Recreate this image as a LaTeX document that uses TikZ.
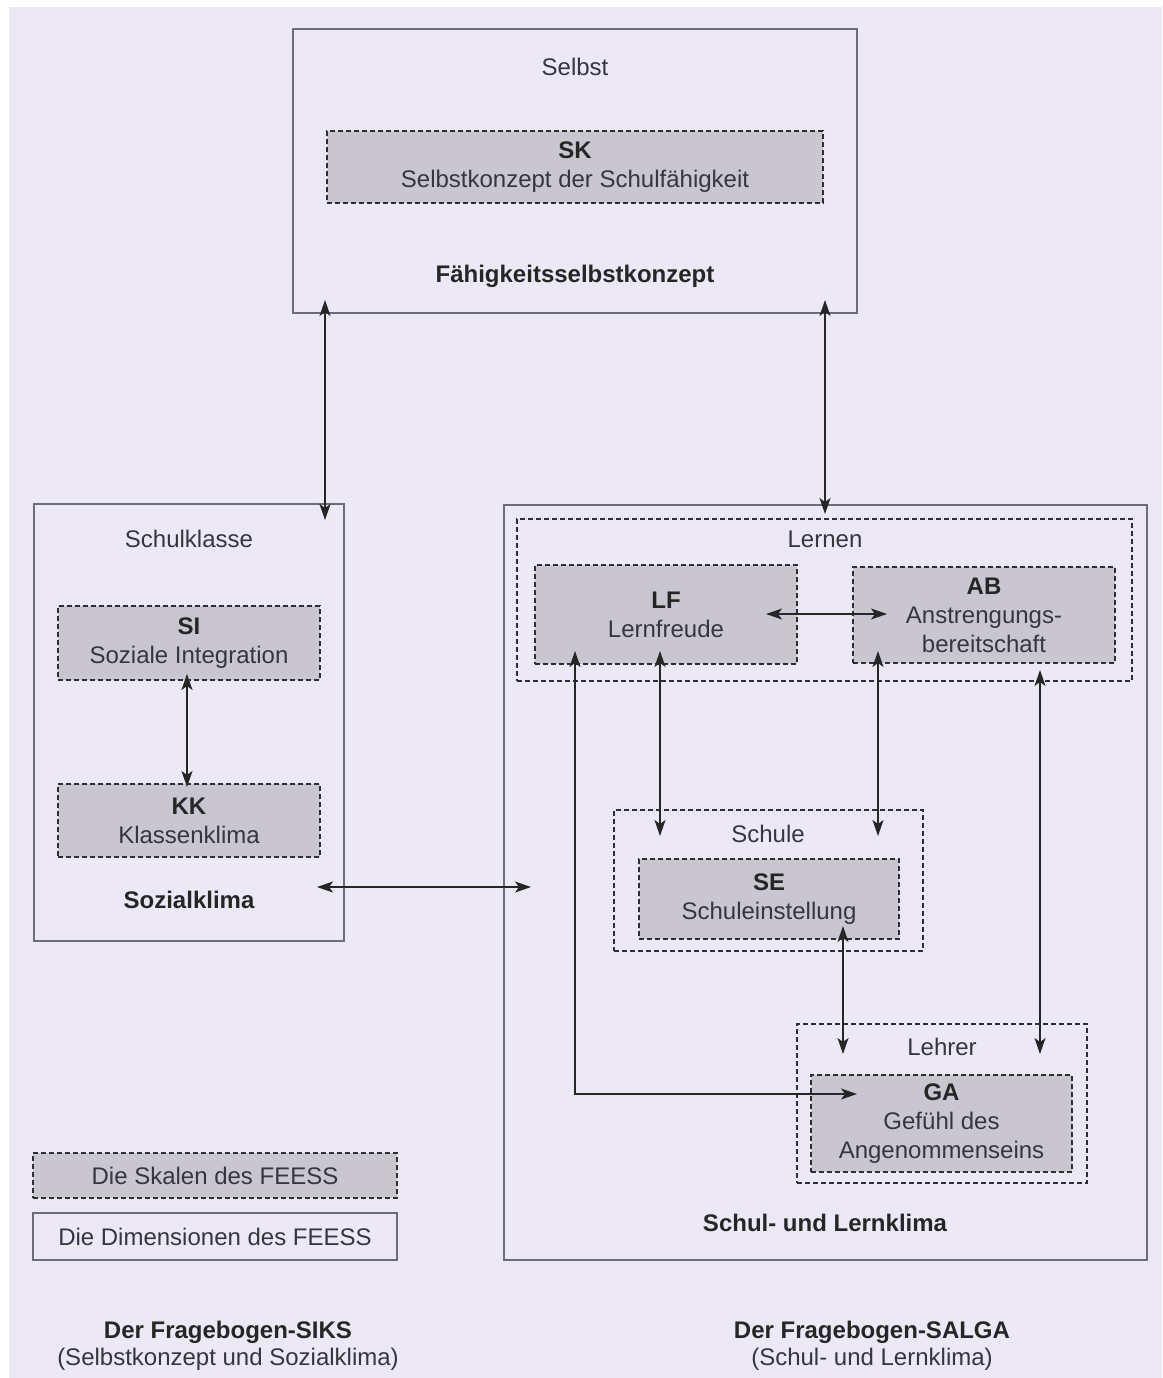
\documentclass[tikz,border=0pt]{standalone}
\usepackage{fontspec}
\setmainfont{Liberation Sans}
\usetikzlibrary{arrows.meta}
\definecolor{bg}{HTML}{ECE8F6}
\definecolor{scalefill}{HTML}{C9C6D0}
\definecolor{dimline}{HTML}{6E6C78}
\definecolor{txt}{HTML}{36363E}
\definecolor{dashc}{HTML}{2E2E36}
\newcommand{\hd}[1]{{\bfseries\color{black!85}#1}}
\begin{document}
\begin{tikzpicture}[x=1pt,y=-1pt,
 dimbox/.style={draw=dimline, line width=1.4pt, rectangle, inner sep=0pt},
 scalebox/.style={draw=dashc, fill=scalefill, line width=2pt, dash pattern=on 5pt off 3pt, rectangle, inner sep=0pt, text=txt, align=center, font=\fontsize{24}{29}\selectfont},
 groupbox/.style={draw=dashc, line width=2pt, dash pattern=on 5pt off 3pt, rectangle, inner sep=0pt},
 lbl/.style={text=txt, font=\fontsize{24}{29}\selectfont, align=center, inner sep=0pt},
 blbl/.style={text=black!85, font=\fontsize{24}{29}\selectfont\bfseries, align=center, inner sep=0pt},
 conn/.style={draw=black!85, line width=1.3pt, {Stealth[length=16pt,width=11pt,inset=4pt]}-{Stealth[length=16pt,width=11pt,inset=4pt]}},
]
% background
\fill[white] (0,0) rectangle (1162,1378);
\fill[bg] (9,7) rectangle (1162,1378);
\useasboundingbox (0,0) rectangle (1162,1378);

% Selbst
\node[dimbox, minimum width=564pt, minimum height=284pt] (top) at (575,171) {};
\node[lbl] (selbst) at (575,67) {Selbst};
\node[scalebox, minimum width=496pt, minimum height=72pt] (SK) at (575,167) {\hd{SK}\\Selbstkonzept der Schulfähigkeit};
\node[blbl] (fsk) at (575,276) {Fähigkeitsselbstkonzept};

% Sozialklima
\node[dimbox, minimum width=310pt, minimum height=437pt] (left) at (189,722.5) {};
\node[lbl] (schulklasse) at (189,539) {Schulklasse};
\node[scalebox, minimum width=262pt, minimum height=74pt] (SI) at (189,643) {\hd{SI}\\Soziale Integration};
\node[scalebox, minimum width=262pt, minimum height=73pt] (KK) at (189,820.5) {\hd{KK}\\Klassenklima};
\node[blbl] (sozial) at (189,900) {Sozialklima};

% Schul- und Lernklima
\node[dimbox, minimum width=643pt, minimum height=755pt] (right) at (825.5,882.5) {};
\node[groupbox, minimum width=615pt, minimum height=162pt] (lernen) at (824.5,600) {};
\node[lbl] (lernenl) at (825,539) {Lernen};
\node[scalebox, minimum width=262pt, minimum height=99pt] (LF) at (666,614.5) {\hd{LF}\\Lernfreude};
\node[scalebox, minimum width=262pt, minimum height=96pt] (AB) at (984,615) {\hd{AB}\\Anstrengungs-\\bereitschaft};
\node[groupbox, minimum width=309pt, minimum height=141pt] (schule) at (768.5,880.5) {};
\node[lbl] (schulel) at (768,834) {Schule};
\node[scalebox, minimum width=260pt, minimum height=80pt] (SE) at (769,899) {\hd{SE}\\Schuleinstellung};
\node[groupbox, minimum width=290pt, minimum height=159pt] (lehrer) at (942,1103.5) {};
\node[lbl] (lehrerl) at (942,1047) {Lehrer};
\node[scalebox, minimum width=261pt, minimum height=97pt] (GA) at (941.5,1123.5) {\hd{GA}\\Gefühl des\\Angenommenseins};
\node[blbl] (slk) at (825,1223) {Schul- und Lernklima};

% legend
\node[scalebox, minimum width=364pt, minimum height=45pt] (leg1) at (215,1175.5) {Die Skalen des FEESS};
\node[dimbox, minimum width=364pt, minimum height=47pt, text=txt, font=\fontsize{24}{29}\selectfont] (leg2) at (215,1236.5) {Die Dimensionen des FEESS};

% bottom captions
\node[blbl] (siks) at (228,1332) {Der Fragebogen-SIKS};
\node[lbl] (siks2) at (228,1359) {(Selbstkonzept und Sozialklima)};
\node[blbl] (salga) at (872,1332) {Der Fragebogen-SALGA};
\node[lbl] (salga2) at (872,1359) {(Schul- und Lernklima)};

% arrow end points
\coordinate (t1) at (325,300);  \coordinate (l1) at (325,520);
\coordinate (t2) at (825,300);  \coordinate (r2) at (825,514);
\coordinate (si1) at (187,674); \coordinate (kk1) at (187,787);
\coordinate (sz1) at (317,887); \coordinate (rl1) at (531,887);
\coordinate (lf1) at (766,614); \coordinate (ab1) at (887,614);
\coordinate (lf2) at (660,651); \coordinate (sc1) at (660,836);
\coordinate (ab2) at (878,651); \coordinate (sc2) at (878,836);
\coordinate (le1) at (1040,670); \coordinate (lh1) at (1040,1054);
\coordinate (se1) at (843,926); \coordinate (lh2) at (843,1054);
\coordinate (lf3) at (575,651); \coordinate (bend) at (575,1094); \coordinate (ga1) at (857,1094);

\draw[conn] (t1) -- (l1);
\draw[conn] (t2) -- (r2);
\draw[conn] (si1) -- (kk1);
\draw[conn] (sz1) -- (rl1);
\draw[conn] (lf1) -- (ab1);
\draw[conn] (lf2) -- (sc1);
\draw[conn] (ab2) -- (sc2);
\draw[conn] (le1) -- (lh1);
\draw[conn] (se1) -- (lh2);
\draw[conn] (lf3) -- (bend) -- (ga1);
\end{tikzpicture}
\end{document}
